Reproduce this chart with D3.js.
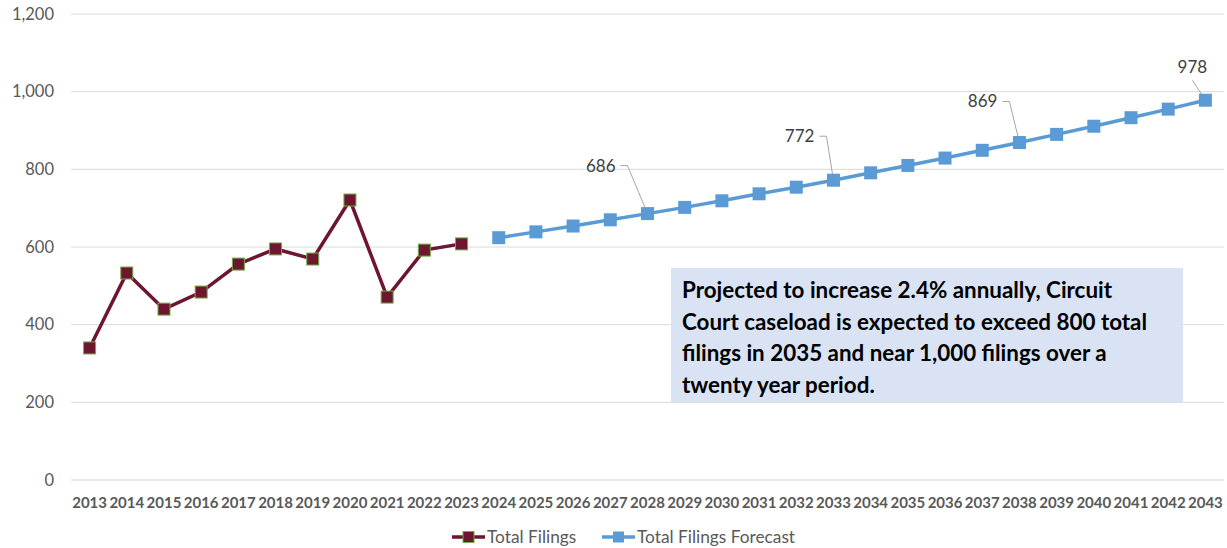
<!DOCTYPE html>
<html>
<head>
<meta charset="utf-8">
<script src="https://cdn.jsdelivr.net/npm/d3@7"></script>
<style>
  body { margin: 0; background: #fff; }
  svg { display: block; }
  .tick-y { font-family: Lato, "Open Sans", sans-serif; font-size: 16.5px; fill: #595959; }
  .tick-x { font-family: Lato, "Open Sans", sans-serif; font-size: 15px; font-weight: bold; fill: #595959; }
  .legend { font-family: Lato, "Open Sans", sans-serif; font-size: 17.3px; fill: #595959; }
  .dlabel { font-family: Lato, "Open Sans", sans-serif; font-size: 17px; fill: #404040; }
  .note { font-family: Lato, "Open Sans", sans-serif; font-size: 22.4px; font-weight: bold; fill: #000; }
</style>
</head>
<body>
<div id="chart"></div>
<script>
const years = d3.range(2013, 2044).map(String);
const filingYears = d3.range(2013, 2024).map(String);
const filings = [340, 533, 440, 484, 556, 595, 569, 721, 471, 592, 608];
const forecastYears = d3.range(2024, 2044).map(String);
const forecast = [624, 639, 654, 670, 686, 702, 719, 737, 754, 772, 791, 810, 829, 849, 869, 890, 911, 933, 955, 978];
const labelYears = ["2028", "2033", "2038", "2043"];
const yTicks = [0, 200, 400, 600, 800, 1000, 1200];
const noteLines = [
  "Projected to increase 2.4% annually, Circuit",
  "Court caseload is expected to exceed 800 total",
  "filings in 2035 and near 1,000 filings over a",
  "twenty year period."
];

const W = 1227, H = 548;
const margin = { left: 71, right: 3, top: 14, bottom: 68 };

const svg = d3.select("#chart").append("svg").attr("width", W).attr("height", H);

const x = d3.scaleBand().domain(years).range([margin.left, W - margin.right]).padding(0);
const y = d3.scaleLinear().domain([0, 1200]).range([H - margin.bottom, margin.top]);
const cx = d => x(d) + x.bandwidth() / 2;

// grid
svg.append("g").selectAll("line").data(yTicks).enter().append("line")
  .attr("x1", margin.left).attr("x2", W - margin.right)
  .attr("y1", d => y(d)).attr("y2", d => y(d))
  .attr("stroke", "#d9d9d9").attr("stroke-width", 1);

svg.append("g").selectAll("text").data(yTicks).enter().append("text")
  .attr("class", "tick-y")
  .attr("x", 54).attr("y", d => y(d)).attr("dy", "0.35em")
  .attr("text-anchor", "end")
  .text(d => d3.format(",")(d));

svg.append("g").selectAll("text").data(years).enter().append("text")
  .attr("class", "tick-x")
  .attr("x", d => cx(d)).attr("y", H - margin.bottom + 28)
  .attr("text-anchor", "middle")
  .text(d => d);

// note box
const box = svg.append("g");
box.append("rect").attr("x", 671).attr("y", 268).attr("width", 512).attr("height", 134).attr("fill", "#dae3f3");
box.selectAll("text").data(noteLines).enter().append("text")
  .attr("class", "note")
  .attr("x", 682).attr("y", (d, i) => 298 + i * 31.5)
  .text(d => d);

const line = d3.line().x(d => cx(d[0])).y(d => y(d[1]));

// historical
const hist = filingYears.map((d, i) => [d, filings[i]]);
svg.append("path").datum(hist).attr("d", line)
  .attr("fill", "none").attr("stroke", "#6e1530").attr("stroke-width", 3.5);
svg.append("g").selectAll("rect").data(hist).enter().append("rect")
  .attr("x", d => cx(d[0]) - 6).attr("y", d => y(d[1]) - 6)
  .attr("width", 12).attr("height", 12)
  .attr("fill", "#6e1530").attr("stroke", "#70ad47").attr("stroke-width", 1);

// forecast
const fc = forecastYears.map((d, i) => [d, forecast[i]]);
svg.append("path").datum(fc).attr("d", line)
  .attr("fill", "none").attr("stroke", "#5b9bd5").attr("stroke-width", 3.5);

// leader lines + labels
const lab = fc.filter(d => labelYears.includes(d[0]));
const offs = { "2028": [-20, -48], "2033": [-7, -44], "2038": [-10, -41], "2043": [-13, -20] };
lab.forEach(d => {
  const px = cx(d[0]), py = y(d[1]);
  const o = offs[d[0]];
  if (d[0] === "2043") {
    svg.append("polyline")
      .attr("points", `${px},${py} ${px + o[0]},${py + o[1]}`)
      .attr("fill", "none").attr("stroke", "#a6a6a6").attr("stroke-width", 1);
    svg.append("text").attr("class", "dlabel")
      .attr("x", px + o[0]).attr("y", py + o[1] - 13).attr("dy", "0.35em")
      .attr("text-anchor", "middle").text(d[1]);
  } else {
    svg.append("polyline")
      .attr("points", `${px},${py} ${px + o[0]},${py + o[1]} ${px + o[0] - 7},${py + o[1]}`)
      .attr("fill", "none").attr("stroke", "#a6a6a6").attr("stroke-width", 1);
    svg.append("text").attr("class", "dlabel")
      .attr("x", px + o[0] - 12).attr("y", py + o[1]).attr("dy", "0.35em")
      .attr("text-anchor", "end").text(d[1]);
  }
});

svg.append("g").selectAll("rect").data(fc).enter().append("rect")
  .attr("x", d => cx(d[0]) - 6.5).attr("y", d => y(d[1]) - 6.5)
  .attr("width", 13).attr("height", 13)
  .attr("fill", "#5b9bd5");

// legend
const lg = svg.append("g");
const legendItems = [
  { name: "Total Filings", color: "#6e1530", stroke: "#70ad47", x: 452 },
  { name: "Total Filings Forecast", color: "#5b9bd5", stroke: "none", x: 602 }
];
const ly = 537;
legendItems.forEach(it => {
  lg.append("line").attr("x1", it.x).attr("x2", it.x + 33).attr("y1", ly).attr("y2", ly)
    .attr("stroke", it.color).attr("stroke-width", 3.5);
  lg.append("rect").attr("x", it.x + 11).attr("y", ly - 5.5).attr("width", 11).attr("height", 11)
    .attr("fill", it.color).attr("stroke", it.stroke).attr("stroke-width", 1);
  lg.append("text").attr("class", "legend").attr("x", it.x + 35).attr("y", ly).attr("dy", "0.35em")
    .text(it.name);
});
</script>
</body>
</html>
